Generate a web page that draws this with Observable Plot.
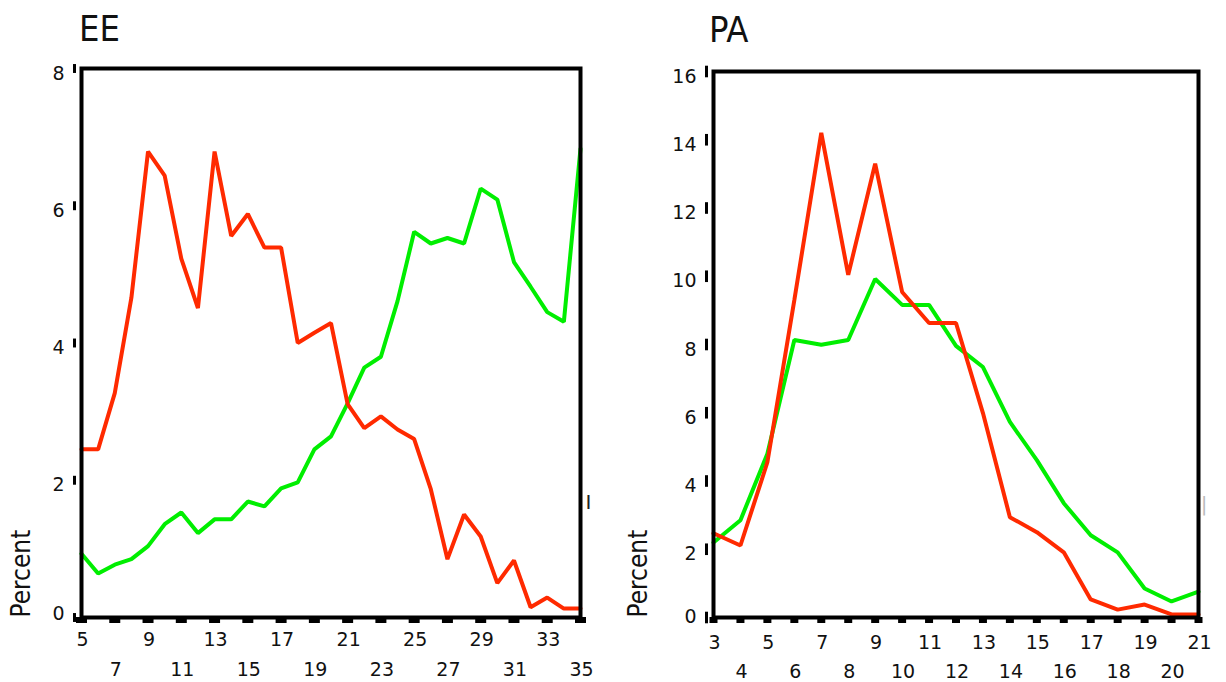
<!DOCTYPE html>
<html><head><meta charset="utf-8">
<script src="https://cdn.jsdelivr.net/npm/d3@7"></script>
<script src="https://cdn.jsdelivr.net/npm/@observablehq/plot@0.6"></script>
<style>
html,body{margin:0;padding:0;background:#fff;width:1226px;height:682px;overflow:hidden;position:relative}
.title{position:absolute;font-family:"DejaVu Sans Condensed","DejaVu Sans",sans-serif;font-size:36px;line-height:36px;color:#111;white-space:nowrap}
.panel{position:absolute;top:50px}
</style></head><body>
<div class="title" style="left:79px;top:11px">EE</div>
<div class="title" style="left:709px;top:12px">PA</div>
<div class="panel" id="p1" style="left:0px"></div>
<div class="panel" id="p2" style="left:613px"></div>
<script>
// ---- EE panel data ----
const eeX = [5,6,7,8,9,10,11,12,13,14,15,16,17,18,19,20,21,22,23,24,25,26,27,28,29,30,31,32,33,34,35];
const eeRed = [2.45,2.45,3.27,4.66,6.79,6.44,5.23,4.51,6.79,5.56,5.88,5.39,5.39,4.0,4.15,4.29,3.11,2.76,2.93,2.74,2.6,1.87,0.85,1.5,1.18,0.5,0.83,0.15,0.29,0.13,0.13];
const eeGreen = [0.93,0.64,0.77,0.85,1.04,1.36,1.53,1.23,1.43,1.43,1.69,1.62,1.88,1.97,2.45,2.64,3.12,3.64,3.8,4.61,5.62,5.45,5.53,5.45,6.25,6.09,5.18,4.82,4.45,4.31,6.83];
const eeYTicks = [0,2,4,6,8];
const eeXRow1 = [5,9,13,17,21,25,29,33];
const eeXRow2 = [7,11,15,19,23,27,31,35];
const eeXBlocks = [5,7,9,11,13,15,17,19,21,23,25,27,29,31,33,35];

// ---- PA panel data ----
const paX = [3,4,5,6,7,8,9,10,11,12,13,14,15,16,17,18,19,20,21];
const paRed = [2.47,2.11,4.55,9.3,14.2,10.04,13.3,9.54,8.63,8.63,5.99,2.94,2.5,1.91,0.53,0.23,0.38,0.09,0.09];
const paGreen = [2.2,2.85,4.8,8.13,7.99,8.13,9.92,9.16,9.16,7.96,7.34,5.73,4.61,3.35,2.41,1.91,0.85,0.47,0.76];
const paYTicks = [0,2,4,6,8,10,12,14,16];
const paXRow1 = [3,5,7,9,11,13,15,17,19,21];
const paXRow2 = [4,6,8,10,12,14,16,18,20];
const paXBlocks = [3,4,5,6,7,8,9,10,11,12,13,14,15,16,17,18,19,20,21];

const yLabel = "Percent";
const RED = "#ff2a00";
const GREEN = "#00ee00";
const COND = '"DejaVu Sans Condensed","DejaVu Sans",sans-serif';

function panel(o) {
  const redData = o.xs.map((x, i) => ({x, v: o.red[i]}));
  const greenData = o.xs.map((x, i) => ({x, v: o.green[i]}));
  return Plot.plot({
    width: 613,
    height: 632,
    marginTop: o.mt, marginBottom: 65, marginLeft: o.ml, marginRight: o.mr,
    x: {domain: o.xDomain, axis: null},
    y: {domain: o.yDomain, axis: null},
    style: {fontFamily: "DejaVu Sans, sans-serif", fontSize: "18px", background: "white", overflow: "visible", color: "#111"},
    marks: [
      Plot.line(greenData, {x: "x", y: "v", stroke: GREEN, strokeWidth: 4, strokeLinejoin: "miter"}),
      Plot.line(redData, {x: "x", y: "v", stroke: RED, strokeWidth: 4, strokeLinejoin: "miter"}),
      Plot.frame({stroke: "black", strokeWidth: 4}),
      Plot.axisX({ticks: o.blocks, tickSize: 6, strokeWidth: o.blockW, tickFormat: () => "", label: null, stroke: "black"}),
      Plot.link(o.yTicks, {x1: () => o.xDomain[0], x2: () => o.xDomain[0], y1: d => d - o.tickHalf, y2: d => d + o.tickHalf, dx: -7, stroke: "black", strokeWidth: 3}),
      Plot.text(o.yTicks.filter(d => d !== 0), {frameAnchor: "left", y: d => d, text: d => String(d), textAnchor: "end", dx: -17, dy: 5, fontSize: 19, fill: "#111"}),
      Plot.text(o.yTicks.filter(d => d === 0), {frameAnchor: "left", y: d => d, text: d => String(d), textAnchor: "end", dx: -17, dy: o.zeroDy, fontSize: 19, fill: "#111"}),
      Plot.text(o.row1, {x: d => d, frameAnchor: "bottom", lineAnchor: "top", dy: o.r1dy, dx: 1, text: d => String(d), fontSize: 19, fill: "#111", letterSpacing: "2px"}),
      Plot.text(o.row2, {x: d => d, frameAnchor: "bottom", lineAnchor: "top", dy: o.r2dy, dx: 1, text: d => String(d), fontSize: 19, fill: "#111", letterSpacing: "2px"}),
      Plot.text([yLabel], {frameAnchor: "bottom-left", text: d => d, rotate: -90, textAnchor: "start", lineAnchor: "middle", dx: o.pdx, fontSize: 26, fontFamily: COND, fill: "#111"}),
      Plot.text([o.stray], {frameAnchor: "right", text: d => d, dx: o.strayDx, dy: 160, fontSize: 20, fill: o.strayColor})
    ]
  });
}

document.getElementById("p1").appendChild(panel({
  xs: eeX, red: eeRed, green: eeGreen, xDomain: [5, 35], yDomain: [0, 8],
  yTicks: eeYTicks, row1: eeXRow1, row2: eeXRow2, blocks: eeXBlocks, blockW: 11,
  tickHalf: 0.065, mt: 18, ml: 81, mr: 33, r1dy: 15, r2dy: 45, pdx: -60, zeroDy: -4,
  stray: "I", strayDx: 11, strayColor: "#222"
}));
document.getElementById("p2").appendChild(panel({
  xs: paX, red: paRed, green: paGreen, xDomain: [3, 21], yDomain: [0, 16],
  yTicks: paYTicks, row1: paXRow1, row2: paXRow2, blocks: paXBlocks, blockW: 8,
  tickHalf: 0.17, mt: 21, ml: 100, mr: 28, r1dy: 18, r2dy: 47, pdx: -75, zeroDy: -1,
  stray: "|", strayDx: 9, strayColor: "#bbb"
}));
</script>
</body></html>
